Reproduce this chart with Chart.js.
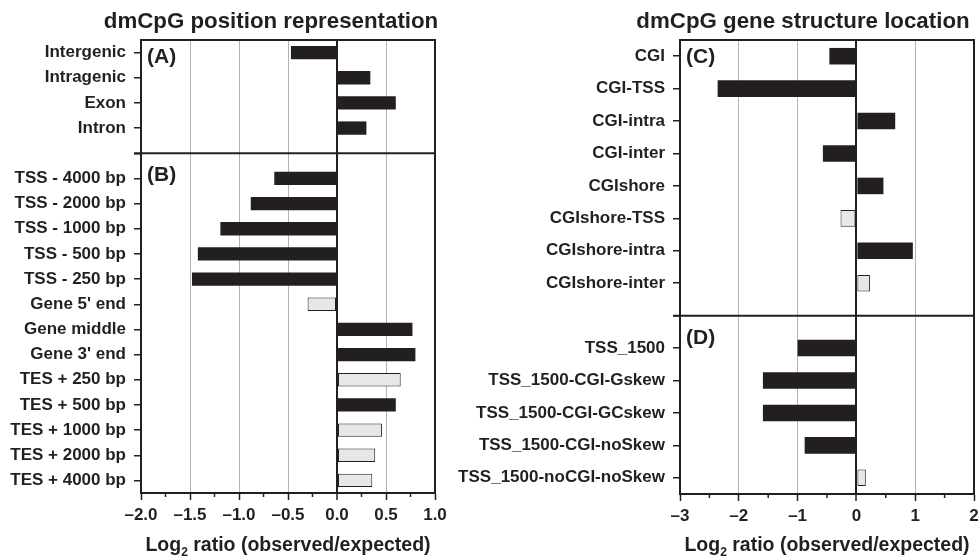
<!DOCTYPE html>
<html>
<head>
<meta charset="utf-8">
<script src="https://cdn.jsdelivr.net/npm/chart.js@4.4.1/dist/chart.umd.min.js"></script>
<style>
  body { margin: 0; background: #fff; }
  #wrap { position: relative; width: 979px; height: 560px; }
  .box { position: absolute; top: 0; height: 560px; }
</style>
</head>
<body>
<div id="wrap">
  <div class="box" style="left:0;width:460px"><canvas id="left"></canvas></div>
  <div class="box" style="left:440px;width:539px"><canvas id="right"></canvas></div>
</div>
<script>
// panel A + B (blank slot = separator)
var posLabels = ['Intergenic', 'Intragenic', 'Exon', 'Intron', '',
  'TSS - 4000 bp', 'TSS - 2000 bp', 'TSS - 1000 bp', 'TSS - 500 bp', 'TSS - 250 bp',
  "Gene 5' end", 'Gene middle', "Gene 3' end",
  'TES + 250 bp', 'TES + 500 bp', 'TES + 1000 bp', 'TES + 2000 bp', 'TES + 4000 bp'];
var posValues = [-0.47, 0.34, 0.60, 0.30, null,
  -0.64, -0.88, -1.19, -1.42, -1.48, -0.30, 0.77, 0.80, 0.65, 0.60, 0.46, 0.39, 0.36];
var posSignif = [1, 1, 1, 1, 0,
  1, 1, 1, 1, 1, 0, 1, 1, 0, 1, 0, 0, 0];
var posTickLabels = ['\u20132.0', '\u20131.5', '\u20131.0', '\u20130.5', '0.0', '0.5', '1.0'];

// panel C + D
var structLabels = ['CGI', 'CGI-TSS', 'CGI-intra', 'CGI-inter', 'CGIshore', 'CGIshore-TSS',
  'CGIshore-intra', 'CGIshore-inter', '',
  'TSS_1500', 'TSS_1500-CGI-Gskew', 'TSS_1500-CGI-GCskew', 'TSS_1500-CGI-noSkew', 'TSS_1500-noCGI-noSkew'];
var structValues = [-0.46, -2.36, 0.66, -0.57, 0.46, -0.27, 0.96, 0.23, null,
  -1.00, -1.59, -1.59, -0.88, 0.16];
var structSignif = [1, 1, 1, 1, 1, 0, 1, 0, 0,
  1, 1, 1, 1, 0];
var structTickLabels = ['\u20133', '\u20132', '\u20131', '0', '1', '2'];

var INK = '#231f20';
var LIGHT = '#e6e7e8';
var GRID = '#b3b3b3';
var FONT = '"Liberation Sans", Arial, sans-serif';

function decor(o) {
  return {
    id: 'decor',
    afterDraw: function (chart) {
      var c = chart.ctx, a = chart.chartArea, x = chart.scales.x, y = chart.scales.y;
      c.save();
      c.strokeStyle = INK;
      c.lineWidth = 2;
      c.strokeRect(a.left, a.top, a.right - a.left, a.bottom - a.top);
      var sy = y.getPixelForValue(o.sep);
      c.beginPath();
      c.moveTo(a.left - 7, sy);
      c.lineTo(a.right, sy);
      c.stroke();
      // minor ticks
      c.lineWidth = 1.5;
      x.ticks.forEach(function (t, i) {
        if (i % 2) {
          var px = x.getPixelForValue(t.value);
          c.beginPath();
          c.moveTo(px, a.bottom);
          c.lineTo(px, a.bottom + 4);
          c.stroke();
        }
      });
      c.fillStyle = INK;
      c.textBaseline = 'alphabetic';
      c.textAlign = 'left';
      c.font = 'bold 21px ' + FONT;
      c.fillText(o.panels[0], a.left + 6, a.top + 23);
      c.fillText(o.panels[1], a.left + 6, sy + 28);
      c.textAlign = 'center';
      c.font = 'bold 22.3px ' + FONT;
      c.fillText(o.title, (a.left + a.right) / 2 + o.shift, 28);
      // x title with subscript
      var fs = 19.5, p1 = 'Log', p2 = '2', p3 = ' ratio (observed/expected)';
      c.textAlign = 'left';
      c.font = 'bold ' + fs + 'px ' + FONT;
      var w1 = c.measureText(p1).width, w3 = c.measureText(p3).width;
      c.font = 'bold ' + (fs * 0.62) + 'px ' + FONT;
      var w2 = c.measureText(p2).width;
      var sx = (a.left + a.right) / 2 - (w1 + w2 + w3) / 2, base = 551;
      c.font = 'bold ' + fs + 'px ' + FONT;
      c.fillText(p1, sx, base);
      c.fillText(p3, sx + w1 + w2, base);
      c.font = 'bold ' + (fs * 0.62) + 'px ' + FONT;
      c.fillText(p2, sx + w1, base + 5);
      c.restore();
    }
  };
}

function makeChart(id, labels, values, signif, o) {
  return new Chart(document.getElementById(id), {
    type: 'bar',
    data: {
      labels: labels,
      datasets: [{
        data: values,
        backgroundColor: signif.map(function (s) { return s ? INK : LIGHT; }),
        borderColor: INK,
        borderWidth: signif.map(function (s) { return s ? 0 : 1; }),
        borderSkipped: false,
        barPercentage: o.bar,
        categoryPercentage: 1
      }]
    },
    options: {
      indexAxis: 'y',
      responsive: true,
      maintainAspectRatio: false,
      animation: false,
      layout: { padding: { top: 40, right: o.padRight, left: 0, bottom: 0 } },
      plugins: { legend: { display: false }, tooltip: { enabled: false } },
      scales: {
        x: {
          type: 'linear',
          min: o.min,
          max: o.max,
          afterFit: function (s) {
            s.height = o.xHeight;
            s.paddingLeft = 0;
            s.paddingRight = 0;
          },
          ticks: {
            stepSize: o.step,
            autoSkip: false,
            maxRotation: 0,
            padding: 5,
            color: INK,
            font: { family: FONT, size: 17, weight: 'bold' },
            callback: function (v, i) { return i % 2 ? '' : o.tickLabels[i / 2]; }
          },
          grid: {
            color: function (ctx) {
              if (ctx.index % 2) return 'rgba(0,0,0,0)';
              return Math.abs(ctx.tick.value) < 1e-9 ? INK : GRID;
            },
            lineWidth: function (ctx) { return Math.abs(ctx.tick.value) < 1e-9 ? 2 : 1; },
            tickColor: function (ctx) { return ctx.index % 2 ? 'rgba(0,0,0,0)' : INK; },
            tickWidth: 1.5,
            tickLength: 7
          },
          border: { color: INK, width: 2 }
        },
        y: {
          type: 'category',
          offset: true,
          afterFit: function (s) { s.width = o.yWidth; },
          ticks: {
            autoSkip: false,
            padding: 8,
            color: INK,
            font: { family: FONT, size: 17, weight: 'bold' }
          },
          grid: {
            offset: false,
            drawOnChartArea: false,
            color: INK,
            lineWidth: 1.5,
            tickLength: 7
          },
          border: { color: INK, width: 2 }
        }
      }
    },
    plugins: [decor(o)]
  });
}

makeChart('left', posLabels, posValues, posSignif, {
  min: -2, max: 1, step: 0.25, tickLabels: posTickLabels,
  bar: 0.53, padRight: 25, yWidth: 141, xHeight: 67,
  sep: 4, panels: ['(A)', '(B)'], title: 'dmCpG position representation', shift: -17
});

makeChart('right', structLabels, structValues, structSignif, {
  min: -3, max: 2, step: 0.5, tickLabels: structTickLabels,
  bar: 0.51, padRight: 5, yWidth: 240, xHeight: 66,
  sep: 8, panels: ['(C)', '(D)'], title: 'dmCpG gene structure location', shift: -24
});
</script>
</body>
</html>
